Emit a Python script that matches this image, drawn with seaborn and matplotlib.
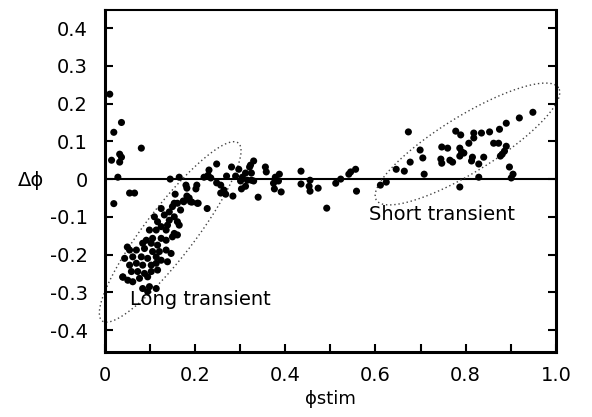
import numpy as np
import pandas as pd
import seaborn as sns
import matplotlib.pyplot as plt

# phase of stimulus vs phase shift
phi_stim = [
    0.011, 0.037, 0.020, 0.081, 0.033, 0.037, 0.015, 0.033, 0.029, 0.055, 0.066, 0.020,
    0.145, 0.165, 0.180, 0.182, 0.204, 0.202, 0.156, 0.182, 0.187, 0.193, 0.174, 0.207, 0.154,
    0.220, 0.229, 0.235, 0.231, 0.248, 0.248, 0.257, 0.264, 0.257, 0.268, 0.284,
    0.270, 0.281, 0.297, 0.290, 0.301, 0.305, 0.312, 0.303, 0.316, 0.325, 0.321, 0.330,
    0.312, 0.340, 0.356, 0.358, 0.323, 0.325, 0.330,
    0.374, 0.378, 0.387, 0.385, 0.376, 0.391, 0.435, 0.435, 0.455, 0.453, 0.455, 0.473,
    0.492, 0.512, 0.523, 0.541, 0.545, 0.556, 0.558, 0.611, 0.624, 0.646, 0.664,
    0.673, 0.677, 0.699, 0.705, 0.708, 0.747, 0.745, 0.747,
    0.760, 0.765, 0.771, 0.778, 0.789, 0.787, 0.791, 0.796, 0.787, 0.807, 0.818, 0.818,
    0.835, 0.853, 0.815, 0.813, 0.840, 0.829, 0.829, 0.787, 0.875, 0.890, 0.919, 0.949,
    0.862, 0.873, 0.890, 0.886, 0.881, 0.877, 0.897, 0.905, 0.901,
    # long transient cluster
    0.125, 0.150, 0.161, 0.175, 0.190, 0.205, 0.227, 0.143, 0.168,
    0.110, 0.132, 0.143, 0.154, 0.161, 0.117, 0.139, 0.165, 0.125,
    0.099, 0.114, 0.136, 0.154, 0.161, 0.092, 0.106, 0.125, 0.136, 0.150, 0.084, 0.103, 0.117,
    0.055, 0.070, 0.088, 0.106, 0.121, 0.136, 0.147, 0.044, 0.062, 0.081, 0.095, 0.114,
    0.125, 0.139, 0.055, 0.070, 0.084, 0.103, 0.114,
    0.040, 0.059, 0.073, 0.088, 0.103, 0.117, 0.051, 0.062, 0.077, 0.095, 0.084, 0.099,
    0.114, 0.095, 0.050, 0.040,
]
delta_phi = [
    0.225, 0.150, 0.124, 0.082, 0.066, 0.058, 0.050, 0.045, 0.005, -0.037, -0.037, -0.065,
    0.000, 0.005, -0.016, -0.024, -0.016, -0.026, -0.040, -0.045, -0.050, -0.061, -0.058, -0.064, -0.064,
    0.005, 0.010, 0.003, 0.024, 0.040, -0.010, -0.016, -0.029, -0.037, -0.040, -0.045,
    0.008, 0.032, 0.026, 0.008, -0.005, 0.005, -0.019, -0.026, -0.003, -0.003, 0.032, 0.048,
    0.016, -0.048, 0.032, 0.019, 0.037, 0.016, -0.005,
    -0.011, 0.005, 0.013, -0.005, -0.026, -0.034, 0.021, -0.013, -0.003, -0.019, -0.032, -0.024,
    -0.077, -0.011, 0.000, 0.013, 0.019, 0.026, -0.032, -0.016, -0.008, 0.026, 0.021,
    0.125, 0.045, 0.077, 0.056, 0.013, 0.085, 0.053, 0.042,
    0.082, 0.050, 0.045, 0.127, 0.117, 0.082, 0.072, 0.069, 0.061, 0.095, 0.122, 0.109,
    0.122, 0.125, 0.058, 0.048, 0.058, 0.040, 0.005, -0.021, 0.132, 0.148, 0.162, 0.177,
    0.095, 0.095, 0.087, 0.074, 0.066, 0.061, 0.032, 0.013, 0.003,
    -0.078, -0.073, -0.064, -0.060, -0.060, -0.064, -0.078, -0.087, -0.082,
    -0.100, -0.095, -0.109, -0.100, -0.113, -0.113, -0.122, -0.122, -0.126,
    -0.135, -0.135, -0.135, -0.144, -0.148, -0.162, -0.157, -0.157, -0.162, -0.153, -0.170, -0.170, -0.175,
    -0.188, -0.188, -0.184, -0.192, -0.192, -0.188, -0.197, -0.210, -0.206, -0.206, -0.210, -0.206,
    -0.215, -0.219, -0.228, -0.223, -0.228, -0.228, -0.223,
    -0.259, -0.245, -0.245, -0.250, -0.245, -0.241, -0.268, -0.272, -0.263, -0.259, -0.290, -0.285,
    -0.290, -0.298, -0.180, -0.260,
]

x_ticks = [0, 0.2, 0.4, 0.6, 0.8, 1.0]
x_ticklabels = ['0', '0.2', '0.4', '0.6', '0.8', '1.0']
y_ticks = [-0.4, -0.3, -0.2, -0.1, 0, 0.1, 0.2, 0.3, 0.4]
y_ticklabels = ['-0.4', '-0.3', '-0.2', '-0.1', '0', '0.1', '0.2', '0.3', '0.4']

df = pd.DataFrame({'phi_stim': phi_stim, 'delta_phi': delta_phi})

sns.set_theme(style='white')
plt.rcParams['font.family'] = ['DejaVu Sans']
plt.rcParams['text.color'] = 'black'
plt.rcParams['axes.labelcolor'] = 'black'

fig = plt.figure(figsize=(5.92, 4.17), dpi=100)
ax = fig.add_axes([0.177, 0.156, 0.762, 0.820])

ax.axhline(0, color='black', linewidth=1.5, zorder=1)
sns.scatterplot(data=df, x='phi_stim', y='delta_phi', ax=ax, color='black',
                s=26, edgecolor='none', zorder=3)

ax.set_xlim(0, 0.99)
ax.set_ylim(-0.458, 0.448)
ax.set_xticks(x_ticks)
ax.set_xticklabels(x_ticklabels)
ax.set_xticks(np.arange(0.1, 1.0, 0.2), minor=True)
ax.set_yticks(y_ticks)
ax.set_yticklabels(y_ticklabels)
ax.tick_params(axis='x', which='both', direction='in', length=6, width=1.5,
               labelsize=14, pad=10, colors='black', bottom=True)
ax.tick_params(axis='y', which='both', direction='in', length=6, width=1.5,
               labelsize=14, pad=12, colors='black', left=True, right=True)
for side in ['left', 'bottom', 'right']:
    ax.spines[side].set_linewidth(2.2)
    ax.spines[side].set_color('black')
ax.spines['top'].set_linewidth(1.5)
ax.spines['top'].set_color('black')

ax.set_xlabel('\u03d5stim', fontsize=13, labelpad=4, color='black')
ax.set_ylabel('\u0394\u03d5', fontsize=14, rotation=0, labelpad=14, va='center', color='black')

ax.text(0.055, -0.32, 'Long transient', fontsize=14, va='center', ha='left', color='black')
ax.text(0.585, -0.095, 'Short transient', fontsize=14, va='center', ha='left', color='black')

# dotted ellipses drawn in display pixels, then mapped back to data
def dotted_ellipse(cx, cy, a_px, b_px, angle_deg):
    fig.canvas.draw()
    center = ax.transData.transform((cx, cy))
    t = np.linspace(0, 2 * np.pi, 300)
    th = np.deg2rad(angle_deg)
    px = center[0] + a_px * np.cos(t) * np.cos(th) - b_px * np.sin(t) * np.sin(th)
    py = center[1] + a_px * np.cos(t) * np.sin(th) + b_px * np.sin(t) * np.cos(th)
    pts = ax.transData.inverted().transform(np.column_stack([px, py]))
    ax.plot(pts[:, 0], pts[:, 1], linestyle=(0, (1, 2)), color='#444444',
            linewidth=1.0, clip_on=False, zorder=2)

dotted_ellipse(0.145, -0.140, 112, 25, 52.6)
dotted_ellipse(0.804, 0.093, 107, 28, 31.6)

fig.savefig('out.png', dpi=100)
